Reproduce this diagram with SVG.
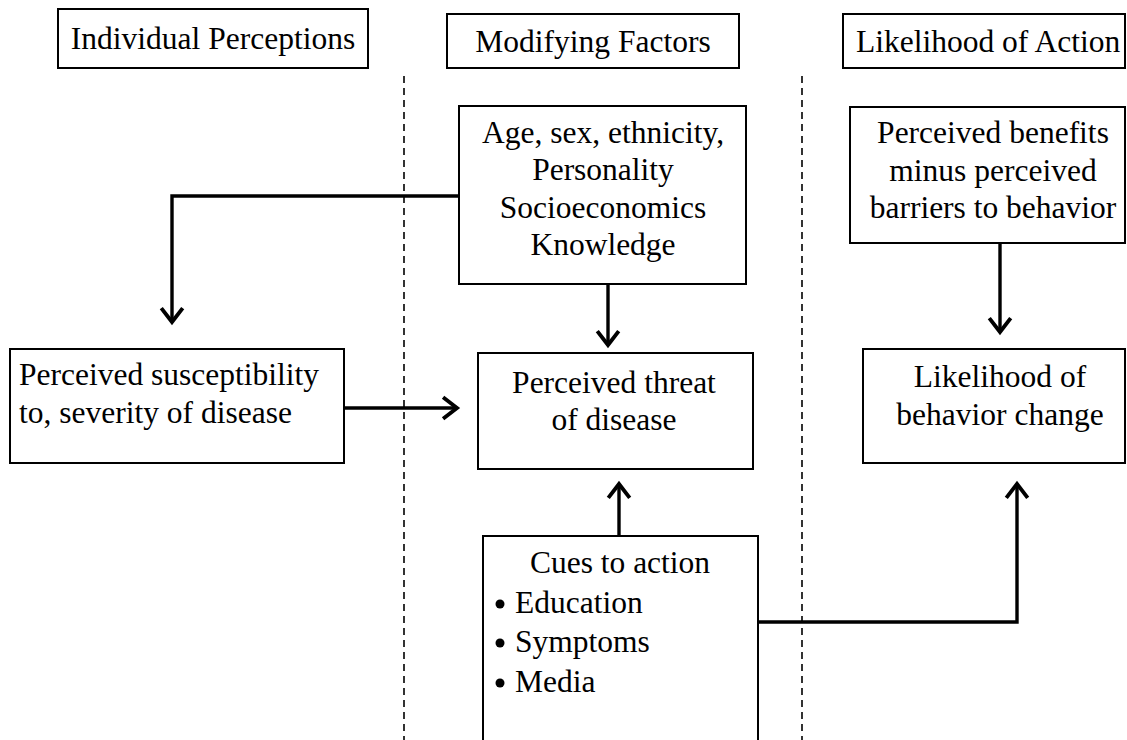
<svg xmlns="http://www.w3.org/2000/svg" width="1127" height="740" viewBox="0 0 1127 740">
<defs>
<style>
.box{fill:#fff;stroke:#000;stroke-width:2}
.t{font-family:"Liberation Serif","Times New Roman",serif;font-size:31.5px;fill:#000}
.c{text-anchor:middle}
.conn{fill:none;stroke:#000;stroke-width:3.4}
.dash{stroke:#000;stroke-width:1.6;stroke-dasharray:7,5;fill:none}
.bullet{fill:#000}
</style>
<marker id="arr" markerUnits="userSpaceOnUse" markerWidth="30" markerHeight="30" refX="0" refY="0" viewBox="-16 -14 20 28" orient="auto" overflow="visible">
<path d="M-13,-10 L0,0 L-13,10" fill="none" stroke="#000" stroke-width="3.6" stroke-linejoin="miter"/>
</marker>
</defs>
<rect width="1127" height="740" fill="#fff"/>
<g id="dividers">
<line class="dash" x1="404" y1="76" x2="404" y2="740"/>
<line class="dash" x1="802" y1="76" x2="802" y2="740"/>
</g>
<g id="hdr-individual">
<rect class="box" x="58" y="9" width="310" height="59"/>
<text class="t c" x="213" y="49">Individual Perceptions</text>
</g>
<g id="hdr-modifying">
<rect class="box" x="447" y="14" width="292" height="54"/>
<text class="t c" x="593" y="52">Modifying Factors</text>
</g>
<g id="hdr-likelihood">
<rect class="box" x="843" y="14" width="282" height="54"/>
<text class="t" x="856" y="52">Likelihood of Action</text>
</g>
<g id="modifying-factors">
<rect class="box" x="459" y="106" width="287" height="178"/>
<text class="t c" x="603" y="143">Age, sex, ethnicity,</text>
<text class="t c" x="603" y="180">Personality</text>
<text class="t c" x="603" y="218">Socioeconomics</text>
<text class="t c" x="603" y="255">Knowledge</text>
</g>
<g id="benefits">
<rect class="box" x="850" y="107" width="275" height="136"/>
<text class="t c" x="993" y="143">Perceived benefits</text>
<text class="t c" x="993" y="181">minus perceived</text>
<text class="t c" x="993" y="218">barriers to behavior</text>
</g>
<g id="susceptibility">
<rect class="box" x="10" y="349" width="334" height="114"/>
<text class="t" x="19" y="385">Perceived susceptibility</text>
<text class="t" x="19" y="423">to, severity of disease</text>
</g>
<g id="threat">
<rect class="box" x="478" y="353" width="275" height="116"/>
<text class="t c" x="614" y="393">Perceived threat</text>
<text class="t c" x="614" y="430">of disease</text>
</g>
<g id="likelihood-change">
<rect class="box" x="863" y="349" width="262" height="114"/>
<text class="t c" x="1000" y="387">Likelihood of</text>
<text class="t c" x="1000" y="425">behavior change</text>
</g>
<g id="cues">
<rect class="box" x="483" y="536" width="275" height="214"/>
<text class="t c" x="620" y="573">Cues to action</text>
<circle class="bullet" cx="500" cy="604" r="4.5"/>
<circle class="bullet" cx="500" cy="643" r="4.5"/>
<circle class="bullet" cx="500" cy="683" r="4.5"/>
<text class="t" x="515" y="613">Education</text>
<text class="t" x="515" y="652">Symptoms</text>
<text class="t" x="515" y="692">Media</text>
</g>
<g id="connectors">
<path class="conn" d="M459,196 H172 V322" marker-end="url(#arr)"/>
<path class="conn" d="M608,284 V345" marker-end="url(#arr)"/>
<path class="conn" d="M344,408 H457" marker-end="url(#arr)"/>
<path class="conn" d="M619,536 V484" marker-end="url(#arr)"/>
<path class="conn" d="M758,622 H1017 V484" marker-end="url(#arr)"/>
<path class="conn" d="M1000,243 V332" marker-end="url(#arr)"/>
</g>
</svg>
